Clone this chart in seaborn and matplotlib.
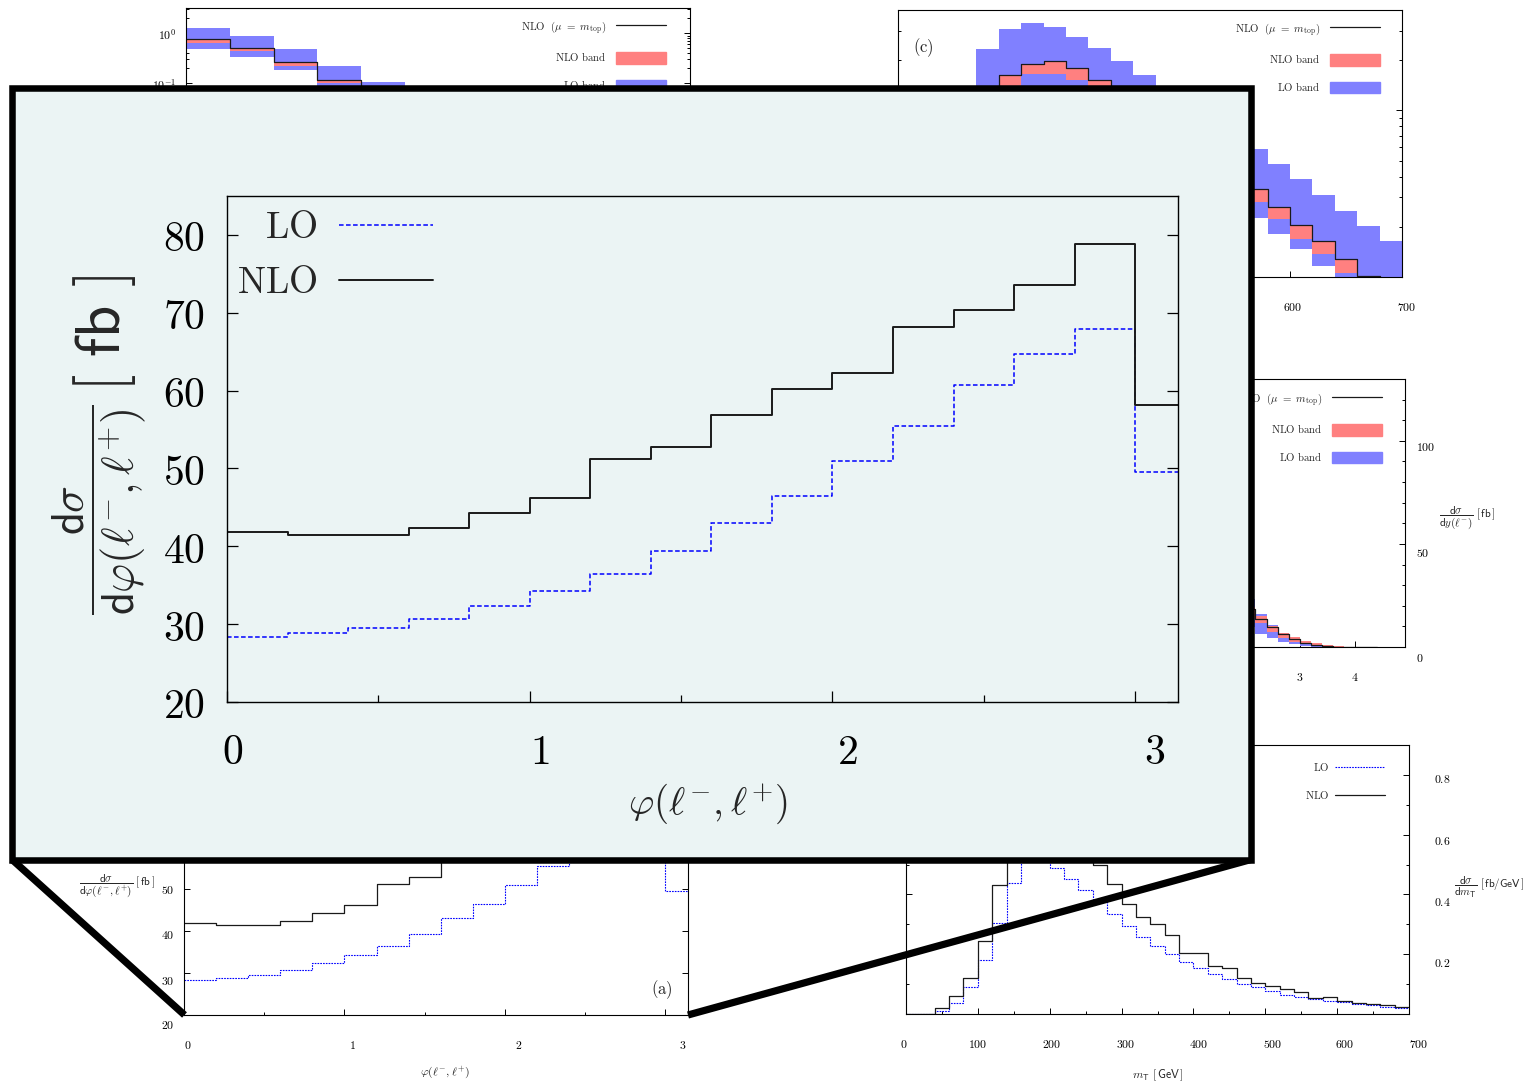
import numpy as np
import matplotlib
matplotlib.use("Agg")
import matplotlib.pyplot as plt
import seaborn as sns
from matplotlib.patches import Rectangle, Patch
from matplotlib.lines import Line2D
from matplotlib.transforms import ScaledTranslation
from matplotlib.ticker import MultipleLocator, LogLocator, NullFormatter

# ---------------------------------------------------------------- data
# azimuthal separation of the two leptons, phi(l-, l+)  [fb]
phi_edges = [0.0, 0.2, 0.4, 0.6, 0.8, 1.0, 1.2, 1.4, 1.6, 1.8, 2.0, 2.2, 2.4,
             2.6, 2.8, 3.0, 3.14159]
phi_nlo = [41.8, 41.4, 41.5, 42.3, 44.3, 46.2, 51.2, 52.8, 56.9, 60.2, 62.2,
           68.2, 70.3, 73.6, 78.8, 58.2]
phi_lo = [28.4, 28.8, 29.5, 30.6, 32.3, 34.2, 36.5, 39.4, 43.0, 46.5, 50.9,
          55.5, 60.7, 64.7, 67.9, 49.6]

# transverse mass m_T  [fb/GeV]
mt_edges = list(range(0, 720, 20))
mt_nlo = [0.0, 0.0, 0.020, 0.060, 0.120, 0.244, 0.433, 0.600, 0.660, 0.680,
          0.660, 0.620, 0.560, 0.497, 0.435, 0.369, 0.323, 0.301, 0.264, 0.204,
          0.204, 0.162, 0.153, 0.122, 0.105, 0.094, 0.083, 0.075, 0.052, 0.058,
          0.044, 0.036, 0.032, 0.029, 0.025]
mt_lo = [0.0, 0.0, 0.009, 0.038, 0.091, 0.180, 0.304, 0.437, 0.560, 0.540,
         0.489, 0.453, 0.415, 0.377, 0.334, 0.294, 0.258, 0.226, 0.200, 0.175,
         0.153, 0.133, 0.118, 0.102, 0.089, 0.078, 0.065, 0.058, 0.050, 0.044,
         0.039, 0.032, 0.029, 0.025, 0.020]

# log-scale spectrum with scale-variation bands (upper-left panel)
tl_edges = list(range(0, 260, 20))
tl_nlo = [0.759, 0.515, 0.263, 0.115, 0.055, 0.026, 0.012, 0.0058, 0.0028,
          0.0014, 0.0007, 0.00035]
tl_nlo_lo = [0.631, 0.443, 0.225, 0.100, 0.047, 0.022, 0.010, 0.0049, 0.0024,
             0.0012, 0.0006, 0.0003]
tl_lo_hi = [1.28, 0.883, 0.485, 0.222, 0.106, 0.050, 0.024, 0.011, 0.0055,
            0.0027, 0.0013, 0.0006]
tl_lo_lo = [0.485, 0.340, 0.185, 0.080, 0.038, 0.018, 0.0085, 0.004, 0.002,
            0.001, 0.0005, 0.00025]
tl_yticks = [1e-4, 1e-3, 1e-2, 1e-1, 1.0]
tl_ylabels = ["", "", "", r"$10^{-1}$", r"$10^{0}$"]

# panel (c): invariant-mass spectrum with bands
c_edges = list(range(320, 720, 20))
c_nlo = [0.0120, 0.0163, 0.0190, 0.0199, 0.0179, 0.0152, 0.0123, 0.0099,
         0.0080, 0.0064, 0.0052, 0.0042, 0.00336, 0.00262, 0.00206, 0.00164,
         0.00128, 0.00101, 0.00080]
c_nlo_lo = [0.0100, 0.0135, 0.0166, 0.0166, 0.0153, 0.0130, 0.0105, 0.0085,
            0.0069, 0.0055, 0.0045, 0.0036, 0.00283, 0.00223, 0.00169,
            0.00138, 0.00105, 0.00085, 0.00070]
c_lo_hi = [0.0232, 0.0306, 0.0333, 0.0315, 0.0274, 0.0235, 0.0197, 0.0162,
           0.0134, 0.0110, 0.0089, 0.0072, 0.00588, 0.00477, 0.00388,
           0.00311, 0.00249, 0.00202, 0.00165]
c_lo_lo = [0.0070, 0.0090, 0.0110, 0.0110, 0.0100, 0.0088, 0.0075, 0.0063,
           0.0052, 0.0043, 0.0035, 0.0028, 0.00227, 0.00182, 0.00147,
           0.00116, 0.00095, 0.00075, 0.00060]

# rapidity of the negative lepton y(l-)  [fb]
y_edges = [2.0, 2.2, 2.4, 2.6, 2.8, 3.0, 3.2, 3.4, 3.6, 3.8, 4.0, 4.2, 4.4]
y_nlo = [18.2, 13.5, 9.8, 6.2, 3.7, 2.1, 1.1, 0.4, 0.15, 0.05, 0.02, 0.0]
y_nlo_hi = [19.6, 15.0, 10.4, 6.8, 5.0, 2.9, 1.9, 0.8, 0.3, 0.15, 0.08, 0.04]
y_nlo_lo = [13.9, 11.5, 7.4, 4.2, 2.6, 1.3, 0.6, 0.2, 0.05, 0.02, 0.0, 0.0]
y_lo_hi = [23.3, 16.0, 10.7, 6.6, 3.4, 1.8, 0.9, 0.4, 0.1, 0.05, 0.0, 0.0]
y_lo_lo = [9.9, 6.3, 4.5, 2.3, 1.3, 0.5, 0.2, 0.1, 0.0, 0.0, 0.0, 0.0]

# ---------------------------------------------------------------- style
sns.set_theme(style="ticks")
plt.rcParams.update({
    "mathtext.fontset": "cm",
    "font.family": ["DejaVu Serif"],
    "xtick.direction": "in",
    "ytick.direction": "in",
    "axes.edgecolor": "black",
    "axes.linewidth": 0.8,
    "xtick.color": "black",
    "ytick.color": "black",
    "axes.facecolor": "white",
    "figure.facecolor": "white",
    "legend.frameon": False,
})

BLUE_BAND = "#8080ff"
RED_BAND = "#ff8080"
LO_COLOR = "#0000ff"
INSET_BG = "#ebf4f4"

W, H = 1536, 1081
fig = plt.figure(figsize=(W / 100, H / 100), dpi=100)


def rect(x0, y0, x1, y1):
    return [x0 / W, 1 - y1 / H, (x1 - x0) / W, (y1 - y0) / H]


def steps(ax, edges, vals, **kw):
    yy = list(vals) + [vals[-1]]
    sns.lineplot(x=edges, y=yy, drawstyle="steps-post", errorbar=None,
                 legend=False, ax=ax, **kw)


def band(ax, edges, lo, hi, color):
    ax.fill_between(edges, list(lo) + [lo[-1]], list(hi) + [hi[-1]],
                    step="post", color=color, lw=0)


def small_ticks(ax):
    ax.tick_params(which="both", right=True, top=False, width=0.7,
                   labelsize=8.5)
    ax.tick_params(which="major", length=4)
    ax.tick_params(which="minor", length=2.5)
    ax.tick_params(axis="x", pad=17)


def band_legend(ax, x_in, y_in, w, h):
    handles = [Line2D([], [], color="k", lw=0.9),
               Patch(color=RED_BAND), Patch(color=BLUE_BAND)]
    labels = [r"$\mathrm{NLO}\ \ (\mu\ =\ m_{\mathrm{top}})$",
              r"$\mathrm{NLO\ band}$", r"$\mathrm{LO\ band}$"]
    ax.legend(handles, labels, loc="upper right",
              bbox_to_anchor=(1 - x_in / w, 1 - y_in / h),
              markerfirst=False, fontsize=7.8, handlelength=4.6,
              handleheight=1.3, labelspacing=1.35, handletextpad=0.9,
              borderpad=0, borderaxespad=0, frameon=False)


def nudge(ticks, shifts, attr="label1"):
    for tk, (dx, dy) in zip(ticks, shifts):
        lab = getattr(tk, attr)
        lab.set_transform(lab.get_transform() +
                          ScaledTranslation(dx / 100, -dy / 100,
                                            fig.dpi_scale_trans))


# ---------------------------------------------------------------- upper-left panel (log)
ax_tl = fig.add_axes(rect(186, 8, 690, 275))
band(ax_tl, tl_edges, tl_lo_lo, tl_lo_hi, BLUE_BAND)
band(ax_tl, tl_edges, tl_nlo_lo, tl_nlo, RED_BAND)
steps(ax_tl, tl_edges, tl_nlo, color="k", lw=0.9)
ax_tl.set_yscale("log")
ax_tl.set_ylim(1.47e-5, 3.2)
ax_tl.set_xlim(0, 230)
ax_tl.set_yticks(tl_yticks, labels=tl_ylabels)
ax_tl.yaxis.set_minor_locator(LogLocator(base=10, subs=np.arange(2, 10),
                                         numticks=100))
ax_tl.yaxis.set_minor_formatter(NullFormatter())
ax_tl.xaxis.set_major_formatter(NullFormatter())
small_ticks(ax_tl)
ax_tl.tick_params(axis="y", pad=7)
band_legend(ax_tl, 24, 11, 504, 267)

# ---------------------------------------------------------------- panel (c)
ax_c = fig.add_axes(rect(898, 10, 1402, 277))
band(ax_c, c_edges, c_lo_lo, c_lo_hi, BLUE_BAND)
band(ax_c, c_edges, c_nlo_lo, c_nlo, RED_BAND)
steps(ax_c, c_edges, c_nlo, color="k", lw=0.9)
ax_c.set_yscale("log")
ax_c.set_ylim(1e-3, 4e-2)
ax_c.set_xlim(250, 700)
ax_c.yaxis.set_major_locator(LogLocator(base=10, numticks=100))
ax_c.yaxis.set_minor_locator(LogLocator(base=10, subs=np.arange(2, 10),
                                        numticks=100))
ax_c.yaxis.set_major_formatter(NullFormatter())
ax_c.yaxis.set_minor_formatter(NullFormatter())
c_ticks = [300, 400, 500, 600, 700]
ax_c.set_xticks(c_ticks, labels=[f"${v}$" for v in c_ticks])
ax_c.xaxis.set_minor_locator(MultipleLocator(50))
small_ticks(ax_c)
ax_c.text(0.05, 0.86, r"$(\mathrm{c})$", transform=ax_c.transAxes,
          fontsize=12, ha="center", va="center")
band_legend(ax_c, 22, 11, 504, 267)

# ---------------------------------------------------------------- y(l-) panel
ax_y = fig.add_axes(rect(901, 379, 1405, 647))
band(ax_y, y_edges, y_lo_lo, y_lo_hi, BLUE_BAND)
band(ax_y, y_edges, y_nlo_lo, y_nlo_hi, RED_BAND)
steps(ax_y, y_edges, y_nlo, color="k", lw=0.9)
ax_y.set_xlim(-4.2, 4.9)
ax_y.set_ylim(0, 130)
yx_ticks = [-4, -3, -2, -1, 0, 1, 2, 3, 4]
ax_y.set_xticks(yx_ticks, labels=[f"${v}$" for v in yx_ticks])
yy_ticks = [0, 50, 100]
ax_y.set_yticks(yy_ticks, labels=[f"${v}$" for v in yy_ticks])
ax_y.yaxis.set_minor_locator(MultipleLocator(10))
small_ticks(ax_y)
ax_y.tick_params(axis="y", labelleft=False, labelright=True, pad=8)
ax_y.text(1.123, 0.481,
          r"$\dfrac{\mathsf{d}\sigma}{\mathsf{d}y(\ell^{-})}\ [\,\mathsf{fb}\,]$",
          transform=ax_y.transAxes, fontsize=8, ha="center", va="center")
band_legend(ax_y, 23, 12, 504, 268)

# ---------------------------------------------------------------- panel (a)
ax_a = fig.add_axes(rect(184, 742, 688, 1015))
steps(ax_a, phi_edges, phi_lo, color=LO_COLOR, lw=0.8,
      linestyle=(0, (1.5, 1.0)))
steps(ax_a, phi_edges, phi_nlo, color="k", lw=0.9)
ax_a.set_xlim(0, np.pi)
ax_a.set_ylim(20, 85)
a_xt = [0, 1, 2, 3]
ax_a.set_xticks(a_xt, labels=[f"${v}$" for v in a_xt])
ax_a.xaxis.set_minor_locator(MultipleLocator(0.5))
a_yt = [20, 30, 40, 50, 60, 70, 80]
ax_a.set_yticks(a_yt, labels=[f"${v}$" for v in a_yt])
small_ticks(ax_a)
ax_a.tick_params(axis="y", pad=7)
ax_a.text(-0.132, 0.4725,
          r"$\dfrac{\mathsf{d}\sigma}{\mathsf{d}\varphi(\ell^{-},\ell^{+})}"
          r"\ [\,\mathsf{fb}\,]$",
          transform=ax_a.transAxes, fontsize=8, ha="center", va="center")
ax_a.text(0.518, -0.212, r"$\varphi(\ell^{-},\ell^{+})$",
          transform=ax_a.transAxes, fontsize=8.5, ha="center", va="center")
ax_a.text(0.948, 0.092, r"$(\mathrm{a})$", transform=ax_a.transAxes,
          fontsize=12, ha="center", va="center")

# ---------------------------------------------------------------- m_T panel
ax_t = fig.add_axes(rect(906, 745, 1409, 1014))
steps(ax_t, mt_edges, mt_lo, color=LO_COLOR, lw=0.8,
      linestyle=(0, (1.5, 1.0)))
steps(ax_t, mt_edges, mt_nlo, color="k", lw=0.9)
ax_t.set_xlim(0, 700)
ax_t.set_ylim(0, 0.9)
t_xt = [0, 100, 200, 300, 400, 500, 600, 700]
ax_t.set_xticks(t_xt, labels=[f"${v}$" for v in t_xt])
ax_t.xaxis.set_minor_locator(MultipleLocator(50))
t_yt = [0.2, 0.4, 0.6, 0.8]
ax_t.set_yticks(t_yt, labels=[f"${v}$" for v in t_yt])
ax_t.yaxis.set_minor_locator(MultipleLocator(0.1))
small_ticks(ax_t)
ax_t.tick_params(axis="y", labelleft=False, labelright=True, pad=18)
ax_t.legend([Line2D([], [], color=LO_COLOR, lw=0.8, linestyle=(0, (1.5, 1.0))),
             Line2D([], [], color="k", lw=0.9)],
            [r"$\mathrm{LO}$", r"$\mathrm{NLO}$"],
            loc="upper right", bbox_to_anchor=(1 - 24 / 503, 1 - 16 / 269),
            markerfirst=False, fontsize=7.8, handlelength=4.6,
            labelspacing=1.5, handletextpad=0.5, borderpad=0,
            borderaxespad=0, frameon=False)
ax_t.text(1.159, 0.472,
          r"$\dfrac{\mathsf{d}\sigma}{\mathsf{d}m_{\mathsf{T}}}"
          r"\ [\,\mathsf{fb/GeV}\,]$",
          transform=ax_t.transAxes, fontsize=8, ha="center", va="center")
ax_t.text(0.501, -0.227, r"$m_{\mathsf{T}}\ [\,\mathsf{GeV}\,]$",
          transform=ax_t.transAxes, fontsize=8.5, ha="center", va="center")

# ---------------------------------------------------------------- magnified frame
zoom_lw = 5.2
fig.add_artist(Line2D([12 / W, 184.5 / W], [1 - 859.5 / H, 1 - 1015 / H],
                      transform=fig.transFigure, color="black", lw=zoom_lw,
                      solid_capstyle="butt", zorder=4))
fig.add_artist(Line2D([1251 / W, 688 / W], [1 - 859.5 / H, 1 - 1015 / H],
                      transform=fig.transFigure, color="black", lw=zoom_lw,
                      solid_capstyle="butt", zorder=4))
fig.add_artist(Rectangle((12 / W, 1 - 859.5 / H), (1251 - 12) / W,
                         (859.5 - 88) / H, transform=fig.transFigure,
                         facecolor=INSET_BG, edgecolor="black", lw=4.7,
                         joinstyle="miter", zorder=5))

ax_i = fig.add_axes(rect(227, 196, 1178, 702))
ax_i.set_zorder(6)
ax_i.set_facecolor("none")
for sp in ax_i.spines.values():
    sp.set_linewidth(1.0)
steps(ax_i, phi_edges, phi_lo, color=LO_COLOR, lw=1.1,
      linestyle=(0, (3.0, 1.6)))
steps(ax_i, phi_edges, phi_nlo, color="k", lw=1.4)
ax_i.set_xlim(0, np.pi)
ax_i.set_ylim(20, 85)
ax_i.set_xticks(a_xt, labels=[f"${v}$" for v in a_xt])
ax_i.xaxis.set_minor_locator(MultipleLocator(0.5))
ax_i.set_yticks(a_yt, labels=[f"${v}$" for v in a_yt])
ax_i.tick_params(which="both", right=True, top=False, width=0.9,
                 labelsize=30)
ax_i.tick_params(which="major", length=8)
ax_i.tick_params(which="minor", length=5)
ax_i.tick_params(axis="x", pad=21)
ax_i.tick_params(axis="y", pad=16)
ax_i.legend([Line2D([], [], color=LO_COLOR, lw=1.1, linestyle=(0, (3.0, 1.6))),
             Line2D([], [], color="k", lw=1.4)],
            [r"$\mathrm{LO}$", r"$\mathrm{NLO}$"],
            loc="upper left", bbox_to_anchor=(10 / 951, 1 - 14 / 506),
            markerfirst=False, fontsize=27, handlelength=2.5,
            labelspacing=0.5, handletextpad=0.58, borderpad=0,
            borderaxespad=0, frameon=False)
# vertical axis title: fraction plus a larger unit bracket
ax_i.text(-0.1335, 0.379,
          r"$\dfrac{\mathsf{d}\sigma}{\mathsf{d}\varphi(\ell^{-},\ell^{+})}$",
          transform=ax_i.transAxes, fontsize=32, rotation=90,
          ha="center", va="center")
ax_i.text(-0.129, 0.728, r"$[\ \mathsf{fb}\ ]$",
          transform=ax_i.transAxes, fontsize=45, rotation=90,
          ha="center", va="center")
ax_i.text(0.506, -0.2, r"$\varphi(\ell^{-},\ell^{+})$",
          transform=ax_i.transAxes, fontsize=28, ha="center", va="center")

# ---------------------------------------------------------------- tick-label offsets
nudge(ax_i.xaxis.get_major_ticks(), [(6, 0), (10, 0), (15, 0), (19, 0)])
nudge(ax_a.xaxis.get_major_ticks(), [(4, 0), (8, 0), (14, 0), (17, 0)])
nudge(ax_a.yaxis.get_major_ticks(), [(0, 9), (0, 7), (0, 3), (0, 0)])
nudge(ax_t.xaxis.get_major_ticks(),
      [(-2, 0), (0, 0), (2, 0), (4, 0), (5, 0), (7, 0), (8, 0), (10, 0)])
nudge(ax_t.yaxis.get_major_ticks(), [(0, 8), (0, 7), (0, 5), (0, 3)],
      attr="label2")
nudge(ax_y.yaxis.get_major_ticks(), [(0, 10), (0, 8), (0, 5)], attr="label2")
nudge(ax_c.xaxis.get_major_ticks(), [(3, 0)] * 4 + [(5, 0)])

fig.savefig("out.png", dpi=100)
